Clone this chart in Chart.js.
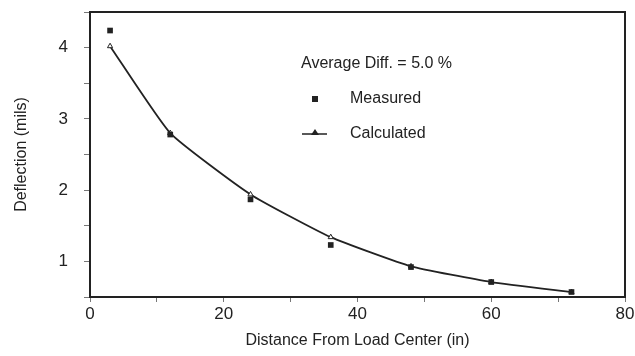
<!DOCTYPE html>
<html>
<head>
<meta charset="utf-8">
<script src="https://cdn.jsdelivr.net/npm/chart.js@4"></script>
<style>
    html, body { margin: 0; padding: 0; background: #fff; }
    #wrap { width: 635px; height: 356px; }
</style>
</head>
<body>
<div id="wrap"><canvas id="deflectionChart"></canvas></div>
<script>
const distances = [3, 12, 24, 36, 48, 60, 72];
const measured = [4.24, 2.78, 1.87, 1.23, 0.92, 0.71, 0.57];
const calculated = [4.02, 2.80, 1.94, 1.34, 0.93, 0.71, 0.57];
const xTicks = [0, 20, 40, 60, 80];
const yTicks = [1, 2, 3, 4];
const averageDiff = 'Average Diff. = 5.0 %';

const ink = '#222';
const fontFamily = '"Liberation Sans", Arial, Helvetica, sans-serif';

// frame around the plot + the in-plot legend
const framePlugin = {
    id: 'frame',
    afterDatasetsDraw(chart) {
        const { ctx, chartArea: a } = chart;
        ctx.save();
        ctx.strokeStyle = ink;
        ctx.lineWidth = 2;
        ctx.strokeRect(a.left, a.top, a.right - a.left, a.bottom - a.top);

        ctx.fillStyle = ink;
        ctx.font = '16px ' + fontFamily;
        ctx.textBaseline = 'middle';
        ctx.fillText(averageDiff, a.left + 211, a.top + 52);

        const labels = chart.data.datasets.map(d => d.label);
        // measured: square marker
        ctx.fillRect(a.left + 222, a.top + 84, 6, 6);
        ctx.fillText(labels[0], a.left + 260, a.top + 87);
        // calculated: line with triangle
        ctx.lineWidth = 1.5;
        ctx.beginPath();
        ctx.moveTo(a.left + 212, a.top + 122);
        ctx.lineTo(a.left + 237, a.top + 122);
        ctx.stroke();
        ctx.beginPath();
        ctx.moveTo(a.left + 225, a.top + 117);
        ctx.lineTo(a.left + 229, a.top + 123);
        ctx.lineTo(a.left + 221, a.top + 123);
        ctx.closePath();
        ctx.fill();
        ctx.fillText(labels[1], a.left + 260, a.top + 122);
        ctx.restore();
    }
};

new Chart(document.getElementById('deflectionChart'), {
    type: 'scatter',
    data: {
        datasets: [{
            label: 'Measured',
            data: distances.map((x, i) => ({ x: x, y: measured[i] })),
            showLine: false,
            pointStyle: 'rect',
            pointRadius: 4,
            backgroundColor: ink,
            borderColor: ink,
            borderWidth: 0
        }, {
            label: 'Calculated',
            data: distances.map((x, i) => ({ x: x, y: calculated[i] })),
            showLine: true,
            tension: 0.15,
            pointStyle: 'triangle',
            pointRadius: 3,
            backgroundColor: '#fff',
            borderColor: ink,
            borderWidth: 1.8,
            pointBorderWidth: 1
        }]
    },
    options: {
        responsive: true,
        maintainAspectRatio: false,
        animation: false,
        layout: { padding: { top: 12, right: 10, left: 0, bottom: 0 } },
        plugins: {
            legend: { display: false },
            tooltip: { enabled: false }
        },
        scales: {
            x: {
                type: 'linear',
                min: 0,
                max: 80,
                afterFit: scale => {
                    scale.height = 59;
                    scale.paddingLeft = 0;
                    scale.paddingRight = 0;
                },
                ticks: {
                    stepSize: 10,
                    color: ink,
                    font: { family: fontFamily, size: 17 },
                    padding: 2,
                    maxRotation: 0,
                    callback: v => xTicks.includes(v) ? v : ''
                },
                grid: { drawOnChartArea: false, tickLength: 5, color: '#777' },
                border: { display: false },
                title: {
                    display: true,
                    text: 'Distance From Load Center (in)',
                    color: ink,
                    font: { family: fontFamily, size: 16 },
                    padding: { top: 0, bottom: 6 }
                }
            },
            y: {
                type: 'linear',
                min: 0.5,
                max: 4.5,
                afterFit: scale => {
                    scale.width = 90;
                    scale.paddingTop = 0;
                    scale.paddingBottom = 0;
                },
                ticks: {
                    stepSize: 0.5,
                    color: ink,
                    font: { family: fontFamily, size: 17 },
                    padding: 16,
                    callback: v => yTicks.includes(v) ? v : ''
                },
                grid: { drawOnChartArea: false, tickLength: 6, color: '#777' },
                border: { display: false },
                title: {
                    display: true,
                    text: 'Deflection (mils)',
                    color: ink,
                    font: { family: fontFamily, size: 16 },
                    padding: { top: 12, bottom: 0 }
                }
            }
        }
    },
    plugins: [framePlugin]
});
</script>
</body>
</html>
